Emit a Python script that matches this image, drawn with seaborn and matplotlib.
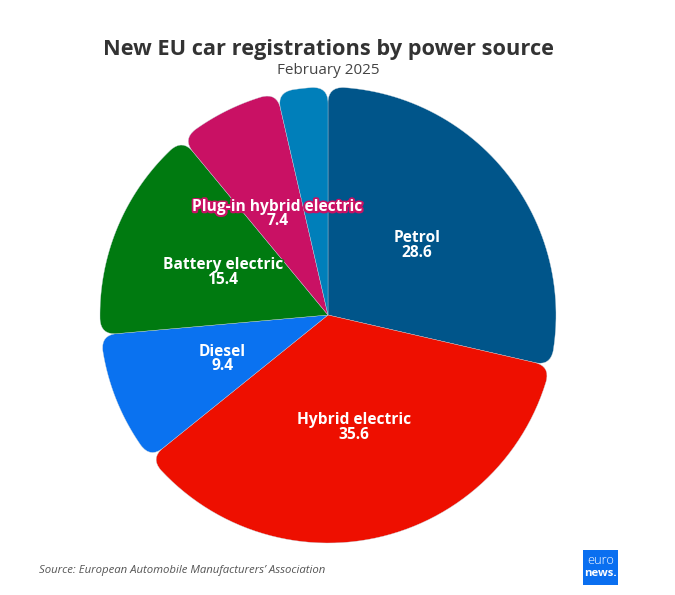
import numpy as np
import matplotlib
matplotlib.use("Agg")
import matplotlib.pyplot as plt
import matplotlib.patheffects as pe
from matplotlib.patches import PathPatch, Rectangle
from matplotlib.path import Path
import seaborn as sns

# Data
categories = ["Petrol", "Hybrid electric", "Diesel", "Battery electric", "Plug-in hybrid electric", "Other"]
shares = [28.6, 35.6, 9.4, 15.4, 7.4, 3.6]
hidden_labels = ["Other"]
slice_colors = ["#00558a", "#ee0f00", "#0a72f0", "#007a10", "#c91164", "#007fba"]

title = "New EU car registrations by power source"
subtitle = "February 2025"
source = "Source: European Automobile Manufacturers\u2019 Association"

W, H = 675, 595
CORNER = 0.07  # rounding of the outer corners, in pie radii
LABEL_SHIFT = 1.5 / 228  # nudges labels down, in pie radii


def rounded_wedge(theta1, theta2, corner=CORNER):
    """Pie slice outline with the two outer corners rounded."""
    a = np.radians(theta1)
    b = np.radians(theta2)
    pad = min(corner, (b - a) * 0.45)
    arc = np.linspace(a + pad, b - pad, 60)

    verts = [(0, 0)]
    codes = [Path.MOVETO]
    # first straight edge, then corner
    verts.append(((1 - corner) * np.cos(a), (1 - corner) * np.sin(a)))
    codes.append(Path.LINETO)
    verts.append((np.cos(a), np.sin(a)))
    codes.append(Path.CURVE3)
    verts.append((np.cos(arc[0]), np.sin(arc[0])))
    codes.append(Path.CURVE3)
    # outer arc
    for t in arc[1:]:
        verts.append((np.cos(t), np.sin(t)))
        codes.append(Path.LINETO)
    # second corner and back to the centre
    verts.append((np.cos(b), np.sin(b)))
    codes.append(Path.CURVE3)
    verts.append(((1 - corner) * np.cos(b), (1 - corner) * np.sin(b)))
    codes.append(Path.CURVE3)
    verts.append((0, 0))
    codes.append(Path.CLOSEPOLY)
    return Path(verts, codes)


sns.set_theme(style="white")
plt.rcParams["font.family"] = ["Open Sans", "DejaVu Sans"]
palette = sns.color_palette(slice_colors)

fig = plt.figure(figsize=(W / 100, H / 100), dpi=100, facecolor="white")
# pie centre at (328, 315) px, radius 228 px
ax = fig.add_axes([100 / W, (H - 543) / H, 456 / W, 456 / H])

labels = [
    "" if c in hidden_labels else f"{c}\n{v}"
    for c, v in zip(categories, shares)
]
wedges, texts = ax.pie(
    shares,
    labels=labels,
    colors=palette,
    startangle=90,
    counterclock=False,
    labeldistance=0.5,
    radius=1,
)
ax.set_xlim(-1, 1)
ax.set_ylim(-1, 1)

# swap the square wedges for rounded ones
for wedge, color in zip(wedges, palette):
    wedge.set_visible(False)
    ax.add_patch(PathPatch(
        rounded_wedge(wedge.theta1, wedge.theta2),
        facecolor=color, edgecolor="#c8d4dc", linewidth=0.25, zorder=2, clip_on=False,
    ))

label_style = dict(ha="center", va="center", multialignment="center",
                   fontsize=11.2, fontweight="bold", linespacing=0.85)
for text, color in zip(texts, palette):
    x, y = text.get_position()
    text.set_position((x, y - LABEL_SHIFT))
    text.set(zorder=5, color="white", **label_style)
    # halo sits on its own layer so it doesn't cut into the line above
    halo = ax.text(x, y - LABEL_SHIFT, text.get_text(), zorder=4, color=color, **label_style)
    halo.set_path_effects([pe.withStroke(linewidth=3, foreground=color)])

fig.text(328 / W, 1 - 50 / H, title, ha="center", va="center",
         fontsize=15.7, fontweight="bold", color="#333333")
fig.text(328 / W, 1 - 71 / H, subtitle, ha="center", va="center",
         fontsize=11, color="#444444")
fig.text(39 / W, 1 - 571 / H, source, ha="left", va="center",
         fontsize=8.2, style="italic", color="#555555")

# logo
fig.add_artist(Rectangle((583 / W, 1 - 585 / H), 35 / W, 35 / H,
                         transform=fig.transFigure, facecolor="#0a6ff0", edgecolor="none"))
fig.text(600.5 / W, 1 - 560.5 / H, "euro", ha="center", va="center",
         fontsize=9.3, fontweight="light", color="white")
fig.text(600.5 / W, 1 - 573 / H, "news.", ha="center", va="center",
         fontsize=8.2, fontweight="bold", color="white")

fig.savefig("out.png", dpi=100)
